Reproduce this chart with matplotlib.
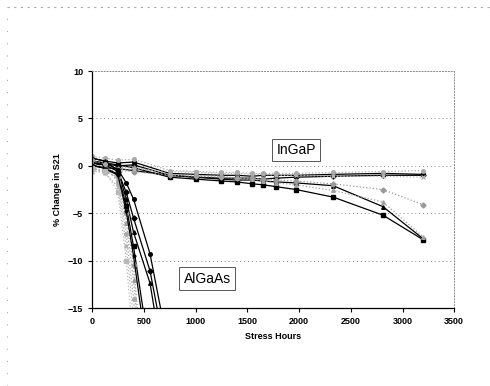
# % change in S21 over stress hours, InGaP vs AlGaAs devices
import matplotlib
matplotlib.use('Agg')
import matplotlib.pyplot as plt
from matplotlib.lines import Line2D

plt.rcParams['font.family'] = ['Liberation Sans', 'DejaVu Sans']

# InGaP devices
hrs_ingap = [0, 125, 250, 400, 750, 1000, 1250, 1400, 1550, 1650, 1780, 1970, 2330, 2810, 3200]
ingap = [
    [0.8, 0.5, 0.3, 0.4, -0.8, -0.9, -1.0, -1.0, -1.1, -1.0, -1.0, -1.0, -0.9, -0.8, -0.9],
    [0.3, 0.2, 0.0, 0.1, -1.0, -1.2, -1.3, -1.3, -1.3, -1.4, -1.3, -1.2, -1.1, -1.0, -1.0],
    [0.0, -0.2, -0.3, -0.5, -1.0, -1.2, -1.4, -1.5, -1.5, -1.6, -1.7, -1.8, -2.1, -4.3, -7.7],
    [0.5, 0.3, 0.1, -0.2, -1.2, -1.4, -1.6, -1.7, -1.9, -2.0, -2.2, -2.5, -3.3, -5.2, -7.8],
    [-0.3, -0.5, -0.5, -0.6, -1.0, -1.1, -1.2, -1.3, -1.3, -1.4, -1.5, -1.6, -1.9, -2.5, -4.1],
    [0.0, 0.0, -0.2, -0.1, -0.9, -1.0, -1.1, -1.3, -1.4, -1.6, -1.8, -2.0, -2.6, -3.8, -7.5],
    [-0.6, -0.6, -0.4, -0.3, -0.6, -0.7, -0.8, -0.8, -0.9, -0.9, -1.0, -1.0, -1.1, -1.1, -1.2],
    [1.0, 0.8, 0.6, 0.7, -0.5, -0.6, -0.7, -0.7, -0.8, -0.8, -0.8, -0.8, -0.7, -0.6, -0.5],
]

# AlGaAs devices (fall off the bottom of the chart)
hrs_algaas = [0, 125, 250, 330, 400, 560, 750]
algaas = [
    [0.5, 0.3, -0.4, -1.8, -3.5, -9.3, -20],
    [0.2, 0.1, -0.6, -2.8, -5.5, -11.1, -22],
    [0.8, 0.5, -0.5, -3.5, -7.0, -12.4, -25],
    [0.0, -0.2, -0.9, -4.2, -8.5, -20, -30],
    [-0.3, -0.6, -1.2, -5.0, -10.5, -30, -40],
    [0.3, -0.3, -1.5, -6.0, -12.0, -32, -40],
    [-0.5, -0.8, -2.2, -8.5, -16.0, -35, -40],
    [0.6, 0.2, -1.8, -7.2, -14.0, -34, -40],
    [0.1, -0.3, -1.0, -4.8, -9.5, -22, -35],
    [-0.2, -0.5, -2.8, -10.0, -19.0, -38, -40],
]

styles = [
    ('black', '-', 'o'), ('black', '-', 'D'), ('black', '-', '^'), ('black', '-', 's'),
    ('#9a9a9a', ':', 'D'), ('#a0a0a0', ':', '^'), ('#b4b4b4', ':', 'x'), ('#aaaaaa', ':', 'o'),
    ('black', '-', '*'), ('#b8b8b8', ':', 's'),
]

fig = plt.figure(figsize=(4.9, 3.86), dpi=100)
ax = fig.add_axes([0.188, 0.202, 0.739, 0.614])

for i, y in enumerate(ingap):
    c, ls, m = styles[i]
    ax.plot(hrs_ingap, y, color=c, linestyle=ls, marker=m, markersize=2.6, linewidth=0.9)

for i, y in enumerate(algaas):
    c, ls, m = styles[i]
    ax.plot(hrs_algaas, y, color=c, linestyle=ls, marker=m, markersize=2.6, linewidth=0.9)

ax.set_xlim(0, 3500)
ax.set_ylim(-15, 10)
ax.set_xticks(range(0, 3501, 500))
ax.set_yticks(range(-15, 11, 5))
ax.tick_params(labelsize=6.5, length=3, width=0.8)
for lbl in ax.get_xticklabels() + ax.get_yticklabels():
    lbl.set_fontweight('bold')

for yv in [-10, -5, 0, 5]:
    ax.axhline(yv, color='#888888', linestyle=(0, (1, 3)), linewidth=0.7, zorder=0)

ax.spines['top'].set_color('#888888')
ax.spines['top'].set_linestyle((0, (1, 2)))
ax.spines['top'].set_linewidth(0.7)
ax.spines['right'].set_color('#888888')
ax.spines['right'].set_linestyle((0, (1, 2)))
ax.spines['right'].set_linewidth(0.7)
ax.spines['left'].set_linewidth(0.9)
ax.spines['bottom'].set_linewidth(0.9)

ax.set_xlabel('Stress Hours', fontsize=6.5, fontweight='bold', labelpad=4)
ax.set_ylabel('% Change in S21', fontsize=6.5, fontweight='bold', labelpad=4)

box = dict(boxstyle='square,pad=0.3', facecolor='white', edgecolor='#555555', linewidth=0.7)
ax.text(1973, 1.7, 'InGaP', fontsize=10, ha='center', va='center', bbox=box, zorder=5)
ax.text(1112, -11.9, 'AlGaAs', fontsize=10, ha='center', va='center', bbox=box, zorder=5)

# faint dotted page border of the scanned sheet
fig.add_artist(Line2D([0.014, 1.0], [0.982, 0.982], transform=fig.transFigure,
                      color='#aaaaaa', linestyle=(0, (2, 4)), linewidth=0.8))
fig.add_artist(Line2D([0.014, 0.014], [0.0, 0.982], transform=fig.transFigure,
                      color='#aaaaaa', linestyle=(0, (1, 10)), linewidth=0.8))

plt.savefig('out.png', dpi=100)
